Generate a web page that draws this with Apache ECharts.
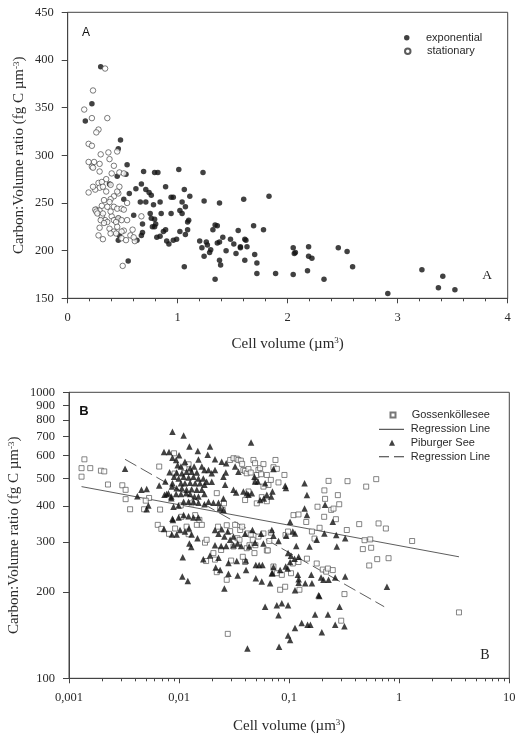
<!DOCTYPE html>
<html><head><meta charset="utf-8">
<script src="https://cdn.jsdelivr.net/npm/echarts@6/dist/echarts.min.js"></script>
<style>html,body{margin:0;padding:0;background:#fff}#c{width:522px;height:739px}</style>
</head><body><div id="c"></div>
<script>
// ---------- Panel A data: [cell volume (µm3), C:V ratio (fg C µm-3)] ----------
const expData = [[0.30,393],[0.22,354],[0.16,336],[0.48,316],[0.46,307],[0.54,290],[0.45,278],[0.53,280],[0.38,270],[0.69,283],[0.79,282],[0.82,282],[1.01,285],[1.23,282],[0.67,270],[0.62,265],[0.56,260],[0.71,264],[0.74,261],[0.76,258],[0.89,267],[0.94,256],[0.96,256],[1.06,264],[0.51,254],[0.66,251],[0.71,251],[0.78,248],[0.84,251],[1.04,251],[1.07,246],[1.38,250],[1.24,252],[1.60,254],[1.83,257],[1.11,257],[0.60,237],[0.75,239],[0.85,239],[0.94,239],[1.02,242],[1.04,239],[1.10,232],[1.09,230],[0.76,234],[0.79,233],[0.79,225],[0.77,225],[0.81,214],[0.84,215],[0.87,220],[0.89,222],[0.90,210],[0.92,207],[0.96,211],[0.99,212],[1.02,220],[1.07,217],[1.09,222],[0.46,234],[0.47,216],[0.46,211],[0.68,228],[0.68,219],[0.67,216],[0.63,211],[0.55,189],[1.06,183],[0.80,228],[1.20,210],[1.22,203],[1.24,194],[1.26,209],[1.27,206],[1.30,201],[1.29,198],[1.32,222],[1.34,227],[1.36,226],[1.36,208],[1.38,190],[1.41,214],[1.38,209],[1.39,185],[1.34,170],[1.44,200],[1.48,212],[1.51,207],[1.53,197],[1.55,221],[1.57,204],[1.57,203],[1.61,212],[1.62,211],[1.63,204],[1.61,190],[1.69,226],[1.70,196],[1.72,187],[1.78,222],[1.72,176],[1.89,176],[2.05,175],[2.05,203],[2.06,197],[2.07,198],[2.19,204],[2.19,194],[2.22,192],[2.18,179],[2.33,170],[2.46,203],[2.54,199],[2.59,183],[2.91,155],[3.22,180],[3.37,161],[3.41,173],[3.52,159]];
const statData = [[0.34,391],[0.23,368],[0.15,348],[0.22,339],[0.36,339],[0.28,327],[0.26,324],[0.19,312],[0.22,310],[0.30,301],[0.37,303],[0.38,296],[0.45,304],[0.42,289],[0.19,293],[0.24,293],[0.29,291],[0.22,288],[0.23,287],[0.29,283],[0.40,281],[0.47,282],[0.51,281],[0.35,275],[0.28,271],[0.31,272],[0.29,266],[0.25,264],[0.32,267],[0.39,269],[0.35,262],[0.23,267],[0.19,261],[0.46,260],[0.42,257],[0.45,262],[0.47,267],[0.54,250],[0.39,254],[0.33,253],[0.38,251],[0.26,243],[0.25,243],[0.31,247],[0.29,242],[0.36,246],[0.42,246],[0.45,244],[0.49,244],[0.51,243],[0.26,241],[0.27,239],[0.31,236],[0.34,232],[0.30,232],[0.36,230],[0.40,236],[0.42,232],[0.46,234],[0.44,230],[0.49,232],[0.54,232],[0.59,222],[0.67,236],[0.38,223],[0.42,220],[0.44,218],[0.51,221],[0.45,225],[0.29,224],[0.28,216],[0.39,218],[0.33,229],[0.39,241],[0.32,239],[0.49,213],[0.53,211],[0.49,220],[0.57,216],[0.61,210],[0.50,184],[0.32,212],[0.60,214]];

// ---------- Panel B data ----------
const gossenData = [[0.0013,543],[0.00138,583],[0.0013,507],[0.00156,543],[0.00195,532],[0.00209,529],[0.00226,476],[0.00305,473],[0.00327,456],[0.00327,423],[0.00359,390],[0.00481,390],[0.00534,427],[0.00498,418],[0.00672,389],[0.0066,550],[0.0064,344],[0.0069,333],[0.0081,320],[0.0092,334],[0.009,612],[0.0091,520],[0.01035,402],[0.0105,367],[0.0122,560],[0.0112,543],[0.0117,339],[0.0122,319],[0.013,409],[0.014,372],[0.0145,344],[0.0153,358],[0.0161,344],[0.0172,298],[0.0178,305],[0.0176,257],[0.0205,274],[0.0212,260],[0.022,235],[0.0226,339],[0.0241,281],[0.0249,388],[0.0256,409],[0.0271,343],[0.0271,221],[0.0277,143],[0.0291,327],[0.0297,258],[0.0312,289],[0.0323,344],[0.0339,309],[0.0354,305],[0.0359,330],[0.0374,339],[0.0379,266],[0.0398,255],[0.0412,285],[0.0418,321],[0.0436,292],[0.0448,318],[0.0467,305],[0.0484,274],[0.0494,292],[0.0526,313],[0.0584,321],[0.0627,280],[0.066,302],[0.0682,323],[0.072,246],[0.0773,233],[0.0828,204],[0.0858,230],[0.092,209],[0.0927,317],[0.104,233],[0.108,252],[0.1095,372],[0.1216,374],[0.1216,255],[0.124,204],[0.143,352],[0.145,262],[0.161,326],[0.17,308],[0.178,252],[0.181,398],[0.189,336],[0.202,240],[0.208,367],[0.209,454],[0.212,424],[0.217,236],[0.225,242],[0.228,490],[0.241,388],[0.249,239],[0.253,392],[0.266,360],[0.277,437],[0.285,406],[0.297,159],[0.318,197],[0.334,330],[0.339,489],[0.433,346],[0.467,283],[0.484,304],[0.501,468],[0.534,248],[0.545,306],[0.556,286],[0.618,497],[0.631,261],[0.649,348],[0.756,334],[0.80,263],[1.31,302],[3.49,170],[0.0291,580],[0.0312,588],[0.0334,586],[0.0346,580],[0.0364,577],[0.0374,562],[0.0384,535],[0.0398,531],[0.0412,521],[0.0427,539],[0.0448,524],[0.0474,580],[0.049,565],[0.0508,514],[0.0526,535],[0.0545,543],[0.0556,517],[0.0584,561],[0.0627,514],[0.0649,474],[0.0682,494],[0.072,547],[0.0751,580],[0.0773,540],[0.080,484],[0.0906,514],[0.0398,420],[0.0427,450],[0.0508,409],[0.0564,430],[0.0627,416],[0.0236,392],[0.022,444],[0.0584,468],[0.0497,488],[0.0977,326],[0.064,280]];
const piburgerData = [[0.00323,540],[0.00418,433],[0.00455,456],[0.00508,459],[0.00526,402],[0.00508,390],[0.0066,472],[0.0073,333],[0.0087,361],[0.00737,438],[0.0080,444],[0.0085,426],[0.0087,481],[0.0082,525],[0.0073,618],[0.0081,618],[0.0087,591],[0.0087,728],[0.011,706],[0.0124,646],[0.0148,624],[0.0191,646],[0.0182,605],[0.0212,583],[0.015,582],[0.0100,602],[0.0094,580],[0.0097,556],[0.0104,550],[0.0113,572],[0.0126,543],[0.0137,550],[0.0161,550],[0.0170,535],[0.0185,535],[0.0198,521],[0.0212,535],[0.0145,524],[0.013,528],[0.0117,528],[0.0106,521],[0.0095,524],[0.0090,507],[0.0099,500],[0.011,507],[0.0122,504],[0.0135,507],[0.015,500],[0.0166,500],[0.0178,487],[0.0198,487],[0.0104,481],[0.0113,481],[0.0126,483],[0.014,481],[0.0155,481],[0.017,475],[0.0075,488],[0.0086,468],[0.0095,462],[0.0106,462],[0.0117,456],[0.013,458],[0.0145,456],[0.0161,456],[0.0077,441],[0.0085,432],[0.0094,441],[0.0104,441],[0.0116,444],[0.0126,441],[0.0138,432],[0.015,432],[0.017,441],[0.0185,414],[0.0205,411],[0.0228,411],[0.0253,425],[0.0253,388],[0.0236,393],[0.011,414],[0.0122,414],[0.0135,414],[0.015,411],[0.017,406],[0.0099,402],[0.0089,398],[0.0088,358],[0.0099,365],[0.011,372],[0.0122,369],[0.0135,365],[0.015,365],[0.0102,330],[0.0113,326],[0.0123,335],[0.0095,318],[0.0086,318],[0.013,318],[0.0147,309],[0.0124,296],[0.0129,288],[0.0212,330],[0.0228,320],[0.0244,332],[0.0258,313],[0.0277,326],[0.0291,305],[0.0312,313],[0.0212,292],[0.0241,290],[0.0268,290],[0.0312,292],[0.0341,296],[0.0366,290],[0.0398,320],[0.0464,330],[0.0556,320],[0.0584,296],[0.049,298],[0.0433,289],[0.0404,258],[0.0334,257],[0.0281,253],[0.0228,264],[0.0191,269],[0.0166,261],[0.0108,265],[0.0215,244],[0.0236,239],[0.0281,232],[0.0341,229],[0.0406,239],[0.0498,249],[0.0534,249],[0.0572,249],[0.0498,224],[0.0564,218],[0.0696,233],[0.072,245],[0.0107,227],[0.012,219],[0.0258,206],[0.0605,178],[0.0418,127],[0.0244,572],[0.0268,565],[0.0323,550],[0.0346,528],[0.0253,507],[0.0262,475],[0.0312,456],[0.033,446],[0.0384,450],[0.0412,444],[0.0427,438],[0.0458,444],[0.0484,507],[0.049,488],[0.0519,488],[0.0545,420],[0.0588,425],[0.0627,438],[0.0687,432],[0.0705,450],[0.0605,481],[0.072,539],[0.0451,668],[0.0266,524],[0.092,471],[0.0935,463],[0.138,481],[0.145,437],[0.138,392],[0.212,404],[0.145,372],[0.249,353],[0.102,353],[0.209,321],[0.323,309],[0.268,317],[0.108,326],[0.113,321],[0.094,315],[0.080,302],[0.0696,330],[0.072,315],[0.178,305],[0.271,289],[0.153,289],[0.116,290],[0.0977,274],[0.104,268],[0.112,262],[0.122,266],[0.102,255],[0.093,246],[0.097,242],[0.0828,239],[0.0705,233],[0.12,230],[0.14,215],[0.161,215],[0.159,230],[0.195,225],[0.205,221],[0.228,221],[0.262,225],[0.323,227],[0.122,222],[0.122,216],[0.0672,215],[0.185,195],[0.188,194],[0.113,203],[0.773,209],[0.0773,180],[0.0858,183],[0.0977,180],[0.080,166],[0.287,178],[0.172,167],[0.225,167],[0.113,150],[0.13,156],[0.147,154],[0.156,154],[0.262,154],[0.318,152],[0.198,145],[0.0977,141],[0.102,136],[0.081,129]];
const gossenRegression = [[0.0013,468],[3.49,266]];
const piburgerRegression = [[0.00323,583],[0.73,178]];

// ---------- Axis ticks / labels ----------
const bXMajor = [0.001,0.01,0.1,1,10];
const bXLabels = ['0,001','0,01','0,1','1','10'];
const bYTicks = [100,200,300,400,500,600,700,800,900,1000];
const bXMinor = [];
[0.001,0.01,0.1,1].forEach(d => { for (let k = 2; k <= 9; k++) bXMinor.push(+(k*d).toPrecision(3)); });

const SERIF = 'Liberation Serif', SANS = 'Liberation Sans';
const AX = '#444', TX = '#2a2a2a';
const labelStyle = {fontFamily: SERIF, fontSize: 12.5, color: TX};
const richName = {
  n: {fontFamily: SERIF, fontSize: 15, color: TX},
  s: {fontFamily: SERIF, fontSize: 9, color: TX, verticalAlign: 'top'}
};
const yName = '{n|Carbon:Volume ratio (fg C µm}{s|-3}{n|)}';
const xName = '{n|Cell volume (µm}{s|3}{n|)}';

// one legend per row so that each icon keeps its own size
function legendRow(name, icon, w, h, iconLeft, centerY, textLeft) {
  return {orient: 'horizontal', left: iconLeft, top: centerY - 7, padding: 0, itemWidth: w, itemHeight: h,
    data: [{name: name, icon: icon}], selectedMode: false,
    textStyle: {fontFamily: SANS, fontSize: 11, color: TX, lineHeight: 14,
      padding: [0, 0, 0, Math.max(0, textLeft - (iconLeft + w + 5))]}};
}
const solidIcon = 'path://M0,0h25v1h-25z';
const dashIcon = 'path://M0,0h10v1h-10zM15,0h10v1h-10z';

const gridBase = {show: true, borderColor: AX, borderWidth: 1, backgroundColor: 'transparent', outerBoundsMode: 'none', containLabel: false};

const chart = echarts.init(document.getElementById('c'), null, {renderer: 'canvas'});
chart.setOption({
  animation: false,
  backgroundColor: '#fff',
  grid: [
    Object.assign({left: 67.7, top: 12.3, width: 440, height: 286}, gridBase),
    Object.assign({left: 69, top: 392.3, width: 440.3, height: 286}, gridBase)
  ],
  xAxis: [
    {gridIndex: 0, type: 'value', min: 0, max: 4, interval: 1,
     axisLine: {lineStyle: {color: AX, width: 1}}, axisTick: {length: 5, lineStyle: {color: AX}},
     minorTick: {show: true, splitNumber: 5, length: 3, lineStyle: {color: AX}},
     splitLine: {show: false}, axisLabel: Object.assign({margin: 13}, labelStyle),
     name: xName, nameLocation: 'middle', nameGap: 38, nameTextStyle: {rich: richName}},
    {gridIndex: 1, type: 'log', logBase: 10, min: 0.001, max: 10,
     axisLine: {lineStyle: {color: AX, width: 1}},
     axisTick: {length: 5, lineStyle: {color: AX}, customValues: bXMajor},
     splitLine: {show: false},
     axisLabel: Object.assign({margin: 13, customValues: bXMajor,
       formatter: v => { const i = bXMajor.findIndex(m => Math.abs(m - v) / m < 1e-6); return i >= 0 ? bXLabels[i] : ''; }}, labelStyle),
     name: xName, nameLocation: 'middle', nameGap: 40, nameTextStyle: {rich: richName}},
    {gridIndex: 1, type: 'log', logBase: 10, min: 0.001, max: 10, position: 'bottom',
     axisLine: {show: false}, axisLabel: {show: false}, splitLine: {show: false},
     axisTick: {length: 3, lineStyle: {color: AX}, customValues: bXMinor}}
  ],
  yAxis: [
    {gridIndex: 0, type: 'value', min: 150, max: 450, interval: 50,
     axisLine: {show: true, lineStyle: {color: AX, width: 1}}, axisTick: {show: true, length: 6, lineStyle: {color: AX}},
     splitLine: {show: false}, axisLabel: Object.assign({margin: 14}, labelStyle),
     name: yName, nameLocation: 'middle', nameGap: 41, nameMoveOverlap: false, nameRotate: 90, nameTextStyle: {rich: richName}},
    {gridIndex: 1, type: 'log', logBase: 10, min: 100, max: 1000,
     axisLine: {show: true, lineStyle: {color: AX, width: 1}},
     axisTick: {show: true, length: 6, lineStyle: {color: AX}, customValues: bYTicks},
     splitLine: {show: false},
     axisLabel: Object.assign({margin: 14, customValues: bYTicks, formatter: v => String(Math.round(v))}, labelStyle),
     name: yName, nameLocation: 'middle', nameGap: 47, nameMoveOverlap: false, nameRotate: 90, nameTextStyle: {rich: richName}}
  ],
  legend: [
    legendRow('exponential', 'circle', 5.5, 5.5, 404, 37.7, 426),
    legendRow('stationary', 'circle', 5.5, 5.5, 404, 51.3, 426),
    legendRow('Gossenköllesee', 'rect', 5, 5, 389.5, 415, 410.7),
    legendRow('Regression Line', solidIcon, 25, 1, 379, 429.3, 410.7),
    legendRow('Piburger See', 'triangle', 6, 6, 389, 442.7, 410.7),
    legendRow('Regression Line ', dashIcon, 25, 1, 379, 456.7, 410.7)
  ],
  graphic: [
    {type: 'text', x: 86, y: 33, style: {text: 'A', fontFamily: SANS, fontSize: 12, fill: '#111', align: 'center', verticalAlign: 'middle'}},
    {type: 'text', x: 487, y: 275.5, style: {text: 'A', fontFamily: SERIF, fontSize: 13.5, fill: '#222', align: 'center', verticalAlign: 'middle'}},
    {type: 'text', x: 84, y: 411, style: {text: 'B', fontFamily: SANS, fontSize: 13, fontWeight: 'bold', fill: '#111', align: 'center', verticalAlign: 'middle'}},
    {type: 'text', x: 485, y: 655, style: {text: 'B', fontFamily: SERIF, fontSize: 14, fill: '#222', align: 'center', verticalAlign: 'middle'}}
  ],
  series: [
    {name: 'exponential', type: 'scatter', xAxisIndex: 0, yAxisIndex: 0, symbol: 'circle', symbolSize: 5.5,
     itemStyle: {color: '#111'}, data: expData},
    {name: 'stationary', type: 'scatter', xAxisIndex: 0, yAxisIndex: 0, symbol: 'circle', symbolSize: 5.5,
     itemStyle: {color: '#fff', borderColor: '#333', borderWidth: 0.8}, data: statData},
    {name: 'Regression Line', type: 'line', xAxisIndex: 1, yAxisIndex: 1, symbol: 'none', showSymbol: false,
     lineStyle: {color: '#333', width: 0.8}, itemStyle: {color: '#333'}, data: gossenRegression, z: 1},
    {name: 'Regression Line ', type: 'line', xAxisIndex: 1, yAxisIndex: 1, symbol: 'none', showSymbol: false,
     lineStyle: {color: '#333', width: 0.8, type: [13, 5]}, itemStyle: {color: '#333'}, data: piburgerRegression, z: 1},
    {name: 'Gossenköllesee', type: 'scatter', xAxisIndex: 1, yAxisIndex: 1, symbol: 'rect', symbolSize: 5,
     itemStyle: {color: '#fff', borderColor: '#555', borderWidth: 0.9}, data: gossenData, z: 2},
    {name: 'Piburger See', type: 'scatter', xAxisIndex: 1, yAxisIndex: 1, symbol: 'triangle', symbolSize: 6.5,
     itemStyle: {color: '#111'}, data: piburgerData, z: 3}
  ]
});
</script></body></html>
